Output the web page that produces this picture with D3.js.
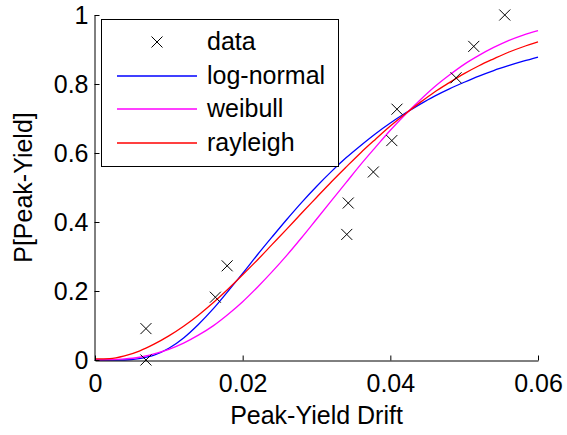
<!DOCTYPE html>
<html>
<head>
<meta charset="utf-8">
<script src="https://cdn.jsdelivr.net/npm/d3@7"></script>
<style>
  html, body { margin: 0; padding: 0; background: #fff; }
  svg { display: block; }
  text { font-family: "Liberation Sans", Arial, sans-serif; fill: #000; }
</style>
</head>
<body>
<svg id="chart" width="567" height="435"></svg>
<script>
// ---- data ----
const dataX = [0.0069, 0.0069, 0.0163, 0.0179, 0.0341, 0.0343, 0.0377, 0.0402, 0.0409, 0.0489, 0.0513, 0.0555];
const dataY = [0.000, 0.091, 0.182, 0.273, 0.364, 0.455, 0.545, 0.636, 0.727, 0.818, 0.909, 1.000];

const curveX = [0, 0.002, 0.004, 0.006, 0.008, 0.010, 0.012, 0.014, 0.016, 0.018, 0.020,
  0.022, 0.024, 0.026, 0.028, 0.030, 0.032, 0.034, 0.036, 0.038, 0.040,
  0.042, 0.044, 0.046, 0.048, 0.050, 0.052, 0.054, 0.056, 0.058, 0.060];
const logNormal = [0, 0.000, 0.000, 0.004, 0.014, 0.034, 0.064, 0.103, 0.148, 0.199, 0.251,
  0.305, 0.357, 0.408, 0.457, 0.503, 0.546, 0.586, 0.622, 0.656, 0.687,
  0.715, 0.741, 0.765, 0.786, 0.805, 0.823, 0.839, 0.853, 0.866, 0.878];
const weibull = [0, 0.001, 0.003, 0.008, 0.018, 0.031, 0.049, 0.072, 0.099, 0.132, 0.169,
  0.211, 0.256, 0.304, 0.355, 0.408, 0.461, 0.514, 0.567, 0.617, 0.666,
  0.711, 0.753, 0.792, 0.826, 0.857, 0.883, 0.906, 0.926, 0.942, 0.955];
const rayleigh = [0.003, 0.004, 0.012, 0.026, 0.046, 0.070, 0.098, 0.130, 0.166, 0.205, 0.247,
  0.290, 0.335, 0.380, 0.426, 0.471, 0.516, 0.559, 0.601, 0.640, 0.678,
  0.713, 0.746, 0.777, 0.804, 0.830, 0.853, 0.873, 0.892, 0.908, 0.922];

const xTicks = [0, 0.02, 0.04, 0.06];
const xTickLabels = ["0", "0.02", "0.04", "0.06"];
const yTicks = [0, 0.2, 0.4, 0.6, 0.8, 1];
const yTickLabels = ["0", "0.2", "0.4", "0.6", "0.8", "1"];

const seriesNames = ["log-normal", "weibull", "rayleigh"];
const seriesColors = ["#0000ff", "#ff00ff", "#ff0000"];
const seriesValues = [logNormal, weibull, rayleigh];

(function () {
// ---- layout ----
const svg = d3.select("#chart");
const pL = 95, pR = 538, pT = 15, pB = 360;
const FS = 25;
const LW = 1.3;

const x = d3.scaleLinear().domain([0, 0.06]).range([pL, pR]);
const y = d3.scaleLinear().domain([0, 1]).range([pB, pT]);

// curves
const line = d3.line()
  .x(d => x(d[0]))
  .y(d => y(d[1]))
  .curve(d3.curveMonotoneX);

seriesValues.forEach((vals, i) => {
  svg.append("path")
    .datum(curveX.map((cx, j) => [cx, vals[j]]))
    .attr("d", line)
    .attr("fill", "none")
    .attr("stroke", seriesColors[i])
    .attr("stroke-width", LW);
});

// data markers (x)
const ms = 5.5;
const pts = dataX.map((d, i) => [d, dataY[i]]);
svg.append("g").selectAll("path")
  .data(pts)
  .join("path")
  .attr("d", d => {
    const px = x(d[0]), py = y(d[1]);
    return `M${px - ms},${py - ms}L${px + ms},${py + ms}M${px - ms},${py + ms}L${px + ms},${py - ms}`;
  })
  .attr("stroke", "#000")
  .attr("stroke-width", 1)
  .attr("fill", "none");

// axes
const xAxis = d3.axisBottom(x)
  .tickValues(xTicks)
  .tickFormat((d, i) => xTickLabels[i])
  .tickSizeInner(-5)
  .tickSizeOuter(0)
  .tickPadding(14);
const gx = svg.append("g").attr("transform", `translate(0,${pB + 0.5})`).call(xAxis);

const yAxis = d3.axisLeft(y)
  .tickValues(yTicks)
  .tickFormat((d, i) => yTickLabels[i])
  .tickSizeInner(-5)
  .tickSizeOuter(0)
  .tickPadding(6);
const gy = svg.append("g").attr("transform", `translate(${pL - 0.5},0)`).call(yAxis);

[gx, gy].forEach(g => {
  g.attr("font-size", FS).attr("font-family", "Liberation Sans, Arial, sans-serif");
  g.selectAll("text").attr("fill", "#000");
  g.selectAll("line, path").attr("stroke", "#000");
});

// axis labels
svg.append("text")
  .attr("x", (pL + pR) / 2)
  .attr("y", 424)
  .attr("text-anchor", "middle")
  .attr("font-size", FS)
  .text("Peak-Yield Drift");

svg.append("text")
  .attr("transform", `translate(32,${(pT + pB) / 2}) rotate(-90)`)
  .attr("text-anchor", "middle")
  .attr("font-size", FS)
  .text("P[Peak-Yield]");

// legend
const lg = svg.append("g");
lg.append("rect")
  .attr("x", 101.5).attr("y", 19.5)
  .attr("width", 237).attr("height", 147)
  .attr("fill", "#fff").attr("stroke", "#000").attr("stroke-width", 1);

const rowY = [42, 76, 109, 143];
lg.append("path")
  .attr("d", `M${157 - ms},${rowY[0] - ms}L${157 + ms},${rowY[0] + ms}M${157 - ms},${rowY[0] + ms}L${157 + ms},${rowY[0] - ms}`)
  .attr("stroke", "#000").attr("fill", "none");
lg.append("text").attr("x", 207).attr("y", rowY[0] + 8).attr("font-size", FS).text("data");

seriesNames.forEach((name, i) => {
  const ry = rowY[i + 1];
  lg.append("line")
    .attr("x1", 117).attr("x2", 197)
    .attr("y1", ry).attr("y2", ry)
    .attr("stroke", seriesColors[i]).attr("stroke-width", 1.5);
  lg.append("text").attr("x", 207).attr("y", rowY[i + 1] + 8).attr("font-size", FS).text(name);
});
})();
</script>
</body>
</html>
